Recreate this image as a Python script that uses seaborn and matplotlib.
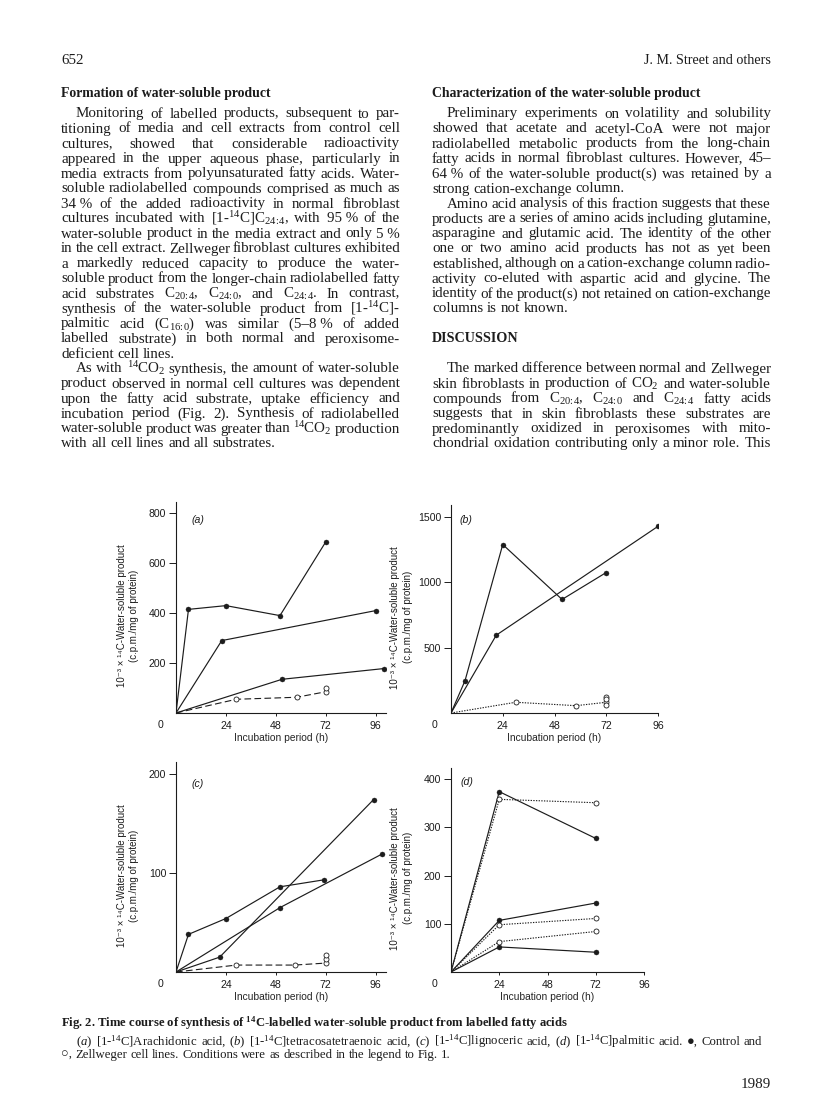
import matplotlib
matplotlib.use("Agg")
import matplotlib.pyplot as plt
import seaborn as sns

# =========================
# Data (10^-3 x c.p.m./mg protein vs hours)
# =========================
hour_ticks = [24, 48, 72, 96]

# (a) arachidonic acid
a_ctrl1_h = [0, 6, 24, 50, 72]
a_ctrl1_v = [0, 415, 430, 390, 685]
a_ctrl2_h = [0, 22, 96]
a_ctrl2_v = [0, 290, 410]
a_ctrl3_h = [0, 51, 100]
a_ctrl3_v = [0, 135, 178]
a_zw_h = [0, 29, 58, 72]
a_zw_v = [0, 55, 63, 85]
a_zw_extra_h = [72]
a_zw_extra_v = [101]
a_yticks = [200, 400, 600, 800]

# (b) tetracosatetraenoic acid
b_ctrl1_h = [0, 6.5, 24, 51.5, 72]
b_ctrl1_v = [0, 247, 1288, 868, 1074]
b_ctrl2_h = [0, 21, 96]
b_ctrl2_v = [0, 595, 1427]
b_zw_h = [0, 30, 58, 72]
b_zw_v = [0, 82, 56, 82]
b_zw_extra_h = [72, 72, 72]
b_zw_extra_v = [125, 104, 58]
b_yticks = [500, 1000, 1500]

# (c) lignoceric acid
c_ctrl1_h = [0, 6, 24, 50, 71]
c_ctrl1_v = [0, 38, 54, 86, 93]
c_ctrl2_h = [0, 50, 99]
c_ctrl2_v = [0, 65, 119]
c_ctrl3_h = [0, 21, 95]
c_ctrl3_v = [0, 15, 174]
c_zw_h = [0, 29, 57, 72]
c_zw_v = [0, 7, 7, 9]
c_zw_extra_h = [72, 72]
c_zw_extra_v = [13, 17]
c_yticks = [100, 200]

# (d) palmitic acid
d_h = [0, 24, 72]
d_ctrl1_v = [0, 374, 277]
d_ctrl2_v = [0, 107, 143]
d_ctrl3_v = [0, 52, 41]
d_zw1_v = [0, 358, 351]
d_zw2_v = [0, 98, 111]
d_zw3_v = [0, 63, 84]
d_yticks = [100, 200, 300, 400]

# =========================
# Page text
# =========================
left_lines = [
    ("Monitoring of labelled products, subsequent to par-", True, True),
    ("titioning of media and cell extracts from control cell", False, True),
    ("cultures, showed that considerable radioactivity", False, True),
    ("appeared in the upper aqueous phase, particularly in", False, True),
    ("media extracts from polyunsaturated fatty acids. Water-", False, True),
    ("soluble radiolabelled compounds comprised as much as", False, True),
    ("34\u00a0% of the added radioactivity in normal fibroblast", False, True),
    (r"cultures incubated with [1-$^{14}$C]C$_{24\!:\!4}$, with 95" + "\u00a0% of the", False, True),
    ("water-soluble product in the media extract and only 5\u00a0%", False, True),
    ("in the cell extract. Zellweger fibroblast cultures exhibited", False, True),
    ("a markedly reduced capacity to produce the water-", False, True),
    ("soluble product from the longer-chain radiolabelled fatty", False, True),
    (r"acid substrates C$_{20\!:\!4}$, C$_{24\!:\!0}$, and C$_{24\!:\!4}$. In contrast,", False, True),
    (r"synthesis of the water-soluble product from [1-$^{14}$C]-", False, True),
    (r"palmitic acid (C$_{16\!:\!0}$) was similar (5–8" + "\u00a0% of added", False, True),
    ("labelled substrate) in both normal and peroxisome-", False, True),
    ("deficient cell lines.", False, False),
    (r"As with $^{14}$CO$_2$ synthesis, the amount of water-soluble", True, True),
    ("product observed in normal cell cultures was dependent", False, True),
    ("upon the fatty acid substrate, uptake efficiency and", False, True),
    ("incubation period (Fig. 2). Synthesis of radiolabelled", False, True),
    (r"water-soluble product was greater than $^{14}$CO$_2$ production", False, True),
    ("with all cell lines and all substrates.", False, False),
]

right_lines = [
    ("Preliminary experiments on volatility and solubility", True, True),
    ("showed that acetate and acetyl-CoA were not major", False, True),
    ("radiolabelled metabolic products from the long-chain", False, True),
    ("fatty acids in normal fibroblast cultures. However, 45–", False, True),
    ("64\u00a0% of the water-soluble product(s) was retained by a", False, True),
    ("strong cation-exchange column.", False, False),
    ("Amino acid analysis of this fraction suggests that these", True, True),
    ("products are a series of amino acids including glutamine,", False, True),
    ("asparagine and glutamic acid. The identity of the other", False, True),
    ("one or two amino acid products has not as yet been", False, True),
    ("established, although on a cation-exchange column radio-", False, True),
    ("activity co-eluted with aspartic acid and glycine. The", False, True),
    ("identity of the product(s) not retained on cation-exchange", False, True),
    ("columns is not known.", False, False),
]

discussion_lines = [
    ("The marked difference between normal and Zellweger", True, True),
    (r"skin fibroblasts in production of CO$_2$ and water-soluble", False, True),
    (r"compounds from C$_{20\!:\!4}$, C$_{24\!:\!0}$ and C$_{24\!:\!4}$ fatty acids", False, True),
    ("suggests that in skin fibroblasts these substrates are", False, True),
    ("predominantly oxidized in peroxisomes with mito-", False, True),
    ("chondrial oxidation contributing only a minor role. This", False, True),
]

caption_title = r"Fig. 2. Time course of synthesis of $^{\mathbf{14}}$C-labelled water-soluble product from labelled fatty acids"
caption_1 = (r"($\mathit{a}$) [1-$^{14}$C]Arachidonic acid, ($\mathit{b}$) [1-$^{14}$C]tetracosatetraenoic acid, "
             r"($\mathit{c}$) [1-$^{14}$C]lignoceric acid, ($\mathit{d}$) [1-$^{14}$C]palmitic acid. ●, Control and")
caption_2 = "○, Zellweger cell lines. Conditions were as described in the legend to Fig. 1."

# =========================
# Style
# =========================
INK = "#1c1c1c"
SANS = ["Liberation Sans", "DejaVu Sans"]
SERIF = ["Liberation Serif", "DejaVu Serif"]

sns.set_style("ticks")
plt.rcParams["font.family"] = SANS
plt.rcParams["mathtext.fontset"] = "custom"
plt.rcParams["mathtext.rm"] = "Liberation Serif"
plt.rcParams["mathtext.it"] = "Liberation Serif:italic"
plt.rcParams["mathtext.bf"] = "Liberation Serif:bold"
plt.rcParams["text.color"] = INK
plt.rcParams["axes.edgecolor"] = INK
plt.rcParams["xtick.color"] = INK
plt.rcParams["ytick.color"] = INK

W, H = 816, 1103
fig = plt.figure(figsize=(W / 100, H / 100), dpi=100)
fig.patch.set_facecolor("white")
rend = fig.canvas.get_renderer()

BODY = 10.8
HEAD = 9.9
CAP = 9.2


def put(x, y, s, **kw):
    kw.setdefault("va", "baseline")
    kw.setdefault("family", SERIF)
    return fig.text(x / W, 1 - y / H, s, **kw)


def text_line(s, x0, x1, yb, justify, size=BODY, **kw):
    parts = s.split(" ")
    ts = [put(x0, yb, p, size=size, ha="left", **kw) for p in parts]
    ws = [t.get_window_extent(renderer=rend).width for t in ts]
    space = 0.25 * size * 100 / 72
    if justify and len(ts) > 1:
        gap = max((x1 - x0 - sum(ws)) / (len(ts) - 1), 0.5 * space)
    else:
        gap = space
    x = x0
    for t, w in zip(ts, ws):
        t.set_x(x / W)
        x += w + gap


LX0, LX1 = 61, 400
RX0, RX1 = 432, 771
INDENT = 15
Y0, STEP = 117.5, 15.0

# header
put(LX0, 64, "652", size=BODY)
put(RX1, 64, "J. M. Street and others", size=10.2, ha="right")

# left column
put(LX0, 97, "Formation of water-soluble product", size=HEAD, weight="bold")
for i, (s, ind, just) in enumerate(left_lines):
    text_line(s, LX0 + (INDENT if ind else 0), LX1, Y0 + STEP * i, just)

# right column
put(RX0, 97, "Characterization of the water-soluble product", size=HEAD, weight="bold")
for i, (s, ind, just) in enumerate(right_lines):
    text_line(s, RX0 + (INDENT if ind else 0), RX1, Y0 + STEP * i, just)
put(RX0, Y0 + STEP * 15, "DISCUSSION", size=10.2, weight="bold")
for i, (s, ind, just) in enumerate(discussion_lines):
    text_line(s, RX0 + (INDENT if ind else 0), RX1, Y0 + STEP * (17 + i), just)

# caption
put(LX0, 1027, caption_title, size=9.1, weight="bold")
text_line(caption_1, LX0 + INDENT, 762, 1045, True, size=CAP)
text_line(caption_2, LX0, 762, 1058, False, size=CAP)
put(RX1, 1088, "1989", size=BODY, ha="right")

# =========================
# Panels
# =========================
YLAB = "10\u207b\u00b3 \u00d7 \u00b9\u2074C-Water-soluble product\n(c.p.m./mg of protein)"


def make_ax(left, top, right, bottom):
    return fig.add_axes([left / W, 1 - bottom / H, (right - left) / W, (bottom - top) / H])


def ctrl(ax, h, v):
    sns.lineplot(x=h, y=v, ax=ax, color=INK, lw=0.85, marker="o", markersize=3.6,
                 markerfacecolor=INK, markeredgecolor=INK, markeredgewidth=0.3,
                 markevery=list(range(1, len(h))), estimator=None, sort=False)


def zw(ax, h, v, ls):
    sns.lineplot(x=h, y=v, ax=ax, color=INK, lw=0.8, linestyle=ls, marker="o", markersize=3.6,
                 markerfacecolor="white", markeredgecolor=INK, markeredgewidth=0.6,
                 markevery=list(range(1, len(h))), estimator=None, sort=False)


def zw_pts(ax, h, v):
    sns.scatterplot(x=h, y=v, ax=ax, s=13, facecolor="white", edgecolor=INK,
                    linewidth=0.6, zorder=4)


def style(ax, xmax, ymax, yticks, tag, ylab_x, tag_xy):
    ax.set_xlim(0, xmax)
    ax.set_ylim(0, ymax)
    ax.set_xticks(hour_ticks)
    ax.set_yticks(yticks)
    ax.tick_params(axis="x", direction="out", length=2.5, width=0.7, pad=3, labelsize=7.6)
    ax.tick_params(axis="y", direction="out", length=5, width=0.7, pad=2, labelsize=7.6)
    sns.despine(ax=ax)
    for sp in ax.spines.values():
        sp.set_linewidth(0.8)
    ax.set_facecolor("white")
    ax.set_xlabel("Incubation period (h)", fontsize=7.4, labelpad=1.5)
    ax.set_ylabel("")
    ax.text(ylab_x, 0.46, YLAB, transform=ax.transAxes, rotation=90, ha="center",
            va="center", fontsize=7.0, linespacing=1.35, multialignment="center")
    ax.annotate("0", xy=(0, 0), xycoords="axes fraction", xytext=(-16, -12),
                textcoords="offset pixels", ha="center", va="center", fontsize=7.6)
    ax.text(tag_xy[0], tag_xy[1], tag, transform=ax.transAxes, ha="left", va="center",
            fontsize=7.6, style="italic")


ax_a = make_ax(176, 502, 386, 713)
ctrl(ax_a, a_ctrl1_h, a_ctrl1_v)
ctrl(ax_a, a_ctrl2_h, a_ctrl2_v)
ctrl(ax_a, a_ctrl3_h, a_ctrl3_v)
zw(ax_a, a_zw_h, a_zw_v, (0, (6, 3)))
zw_pts(ax_a, a_zw_extra_h, a_zw_extra_v)
style(ax_a, 101, 845, a_yticks, "(a)", -0.229, (0.075, 0.915))

ax_b = make_ax(451, 505, 658, 713)
ctrl(ax_b, b_ctrl1_h, b_ctrl1_v)
ctrl(ax_b, b_ctrl2_h, b_ctrl2_v)
zw(ax_b, b_zw_h, b_zw_v, (0, (1.2, 1.2)))
zw_pts(ax_b, b_zw_extra_h, b_zw_extra_v)
style(ax_b, 96, 1590, b_yticks, "(b)", -0.239, (0.043, 0.928))

ax_c = make_ax(176, 762, 386, 972)
ctrl(ax_c, c_ctrl1_h, c_ctrl1_v)
ctrl(ax_c, c_ctrl2_h, c_ctrl2_v)
ctrl(ax_c, c_ctrl3_h, c_ctrl3_v)
zw(ax_c, c_zw_h, c_zw_v, (0, (6, 3)))
zw_pts(ax_c, c_zw_extra_h, c_zw_extra_v)
style(ax_c, 101, 212, c_yticks, "(c)", -0.229, (0.075, 0.895))

ax_d = make_ax(451, 768, 644, 972)
ctrl(ax_d, d_h, d_ctrl1_v)
ctrl(ax_d, d_h, d_ctrl2_v)
ctrl(ax_d, d_h, d_ctrl3_v)
zw(ax_d, d_h, d_zw1_v, (0, (1.2, 1.2)))
zw(ax_d, d_h, d_zw2_v, (0, (1.2, 1.2)))
zw(ax_d, d_h, d_zw3_v, (0, (1.2, 1.2)))
style(ax_d, 96, 423, d_yticks, "(d)", -0.256, (0.048, 0.929))

fig.savefig("out.png", dpi=100, facecolor="white")
